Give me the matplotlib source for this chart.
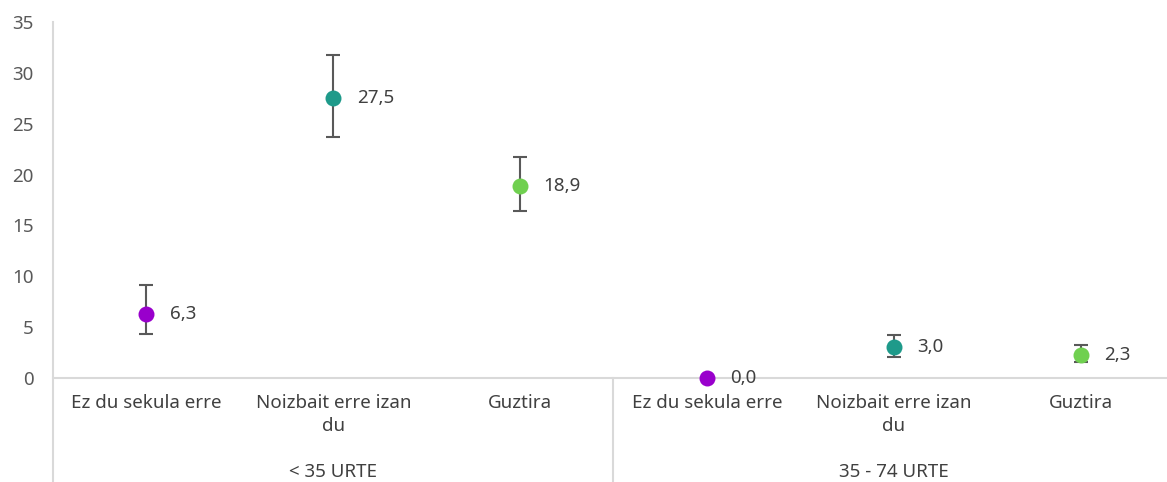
import matplotlib.pyplot as plt
import matplotlib.transforms as mtransforms
import numpy as np

plt.rcParams['font.family'] = ['Noto Sans', 'DejaVu Sans']

# data
categories = ['Ez du sekula erre', 'Noizbait erre izan\ndu', 'Guztira',
              'Ez du sekula erre', 'Noizbait erre izan\ndu', 'Guztira']
groups = ['< 35 URTE', '35 - 74 URTE']
values = [6.3, 27.5, 18.9, 0.0, 3.0, 2.3]
lower = [4.3, 23.7, 16.4, 0.0, 2.1, 1.6]
upper = [9.1, 31.8, 21.7, 0.0, 4.2, 3.2]
colors = ['#9900CC', '#1E9A8A', '#70D050', '#9900CC', '#1E9A8A', '#70D050']
y_ticks = [0, 5, 10, 15, 20, 25, 30, 35]

text_col = '#595959'
line_col = '#D9D9D9'
fs = 13.5

fig = plt.figure(figsize=(11.67, 4.82), dpi=100)
ax = fig.add_axes([53 / 1167, (482 - 378) / 482, 1121 / 1167, 356 / 482])

x = np.arange(len(values))
vals = np.array(values)
yerr = np.array([vals - np.array(lower), np.array(upper) - vals])

for i in range(len(values)):
    has_err = upper[i] > lower[i]
    if has_err:
        ax.errorbar(x[i], vals[i], yerr=yerr[:, i:i + 1], fmt='none',
                    ecolor=text_col, elinewidth=1.5, capsize=5, capthick=1.5, zorder=2)
    ax.plot(x[i], vals[i], 'o', ms=11.5, color=colors[i], mec='none', zorder=3, clip_on=False)
    ax.annotate(f'{values[i]:.1f}'.replace('.', ','), (x[i], vals[i]),
                xytext=(17, 0), textcoords='offset points', va='center', ha='left',
                fontsize=fs, color='#404040')

ax.set_xlim(-0.5, len(values) - 0.5)
ax.set_ylim(0, 35)
ax.set_yticks(y_ticks)
ax.set_xticks([])
ax.tick_params(axis='y', length=0, labelsize=fs, labelcolor=text_col, pad=14)

for s in ['top', 'right', 'left']:
    ax.spines[s].set_visible(False)
ax.spines['bottom'].set_color(line_col)
ax.spines['bottom'].set_linewidth(1.5)

# category and group labels below the axis
trans = mtransforms.blended_transform_factory(ax.transData, fig.transFigure)
for i, c in enumerate(categories):
    ax.text(x[i], (482 - 394) / 482, c, transform=trans, ha='center', va='top',
            fontsize=fs, color='#404040', linespacing=1.35)
for g, name in enumerate(groups):
    ax.text(g * 3 + 1, (482 - 472) / 482, name, transform=trans, ha='center', va='center',
            fontsize=fs, color='#404040')

# vertical axis line and group separator
for xv, ytop in [(-0.5, 22), (2.5, 378)]:
    ax.plot([xv, xv], [0, (482 - ytop) / 482], transform=trans, color=line_col,
            lw=1.5, clip_on=False)

fig.savefig('out.png', dpi=100)
